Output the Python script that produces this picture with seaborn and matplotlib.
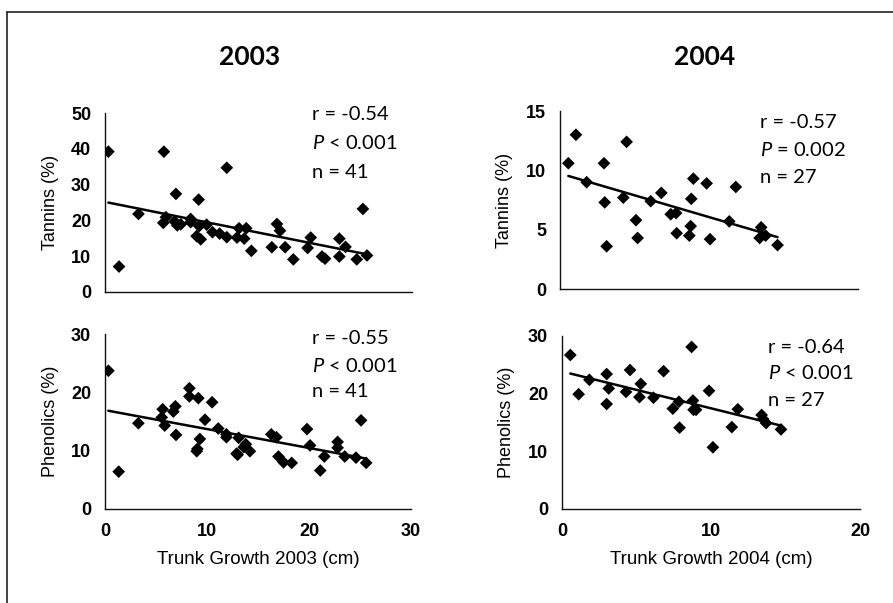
import numpy as np
import pandas as pd
import matplotlib
matplotlib.use("Agg")
import matplotlib.pyplot as plt
from matplotlib.lines import Line2D
import seaborn as sns

# ---------------- data ----------------
growth03_tan = [0.33, 1.37, 3.27, 5.75, 5.69, 5.95, 6.93, 6.8, 7.06, 8.37, 8.37, 9.15, 9.2, 8.95,
                9.35, 9.93, 10.5, 11.2, 11.9, 11.9, 12.9, 13.1, 13.8, 13.6, 14.3, 16.3, 16.8, 17.1,
                17.6, 18.4, 19.8, 20.1, 21.2, 21.5, 22.9, 22.9, 23.5, 24.6, 25.2, 25.6, 7.4]
tannins03 = [39.2, 7.1, 21.8, 39.2, 19.3, 20.9, 27.4, 19.7, 18.6, 20.4, 19.5, 25.8, 18.4, 15.6,
             14.7, 18.8, 16.7, 16.3, 34.7, 15.3, 15.2, 17.8, 17.8, 14.9, 11.5, 12.5, 19.0, 17.1,
             12.5, 9.1, 12.3, 15.2, 9.9, 9.3, 14.9, 9.9, 12.6, 9.1, 23.2, 10.2, 18.9]

growth04_tan = [0.56, 1.07, 1.79, 2.95, 3.0, 3.13, 4.25, 4.47, 5.1, 5.21, 6.09, 6.8, 7.43, 7.79,
                7.83, 8.68, 8.77, 8.81, 8.95, 9.84, 10.07, 11.36, 11.8, 13.4, 13.5, 13.8, 14.6]
tannins04 = [10.6, 13.0, 9.0, 10.6, 7.3, 3.6, 7.7, 12.4, 5.8, 4.3, 7.4, 8.1, 6.3, 6.4,
             4.7, 4.5, 5.3, 7.6, 9.3, 8.9, 4.2, 5.7, 8.6, 4.3, 5.2, 4.5, 3.7]

growth03_phe = [0.33, 1.34, 3.27, 5.65, 5.56, 5.85, 6.7, 6.9, 6.96, 8.27, 8.27, 9.15, 8.99, 9.05,
                9.3, 9.8, 10.5, 11.1, 11.9, 11.9, 12.9, 13.1, 13.6, 13.8, 14.2, 13.0, 16.3, 16.8,
                17.0, 17.5, 18.3, 19.8, 20.1, 21.1, 21.5, 22.8, 22.8, 23.5, 24.6, 25.1, 25.6]
phenolics03 = [23.7, 6.4, 14.7, 17.1, 15.7, 14.3, 16.7, 17.6, 12.7, 20.7, 19.3, 19.0, 9.9, 10.3,
               12.0, 15.3, 18.3, 13.8, 12.8, 12.3, 9.5, 12.2, 10.6, 11.1, 9.9, 9.3, 12.8, 12.3,
               9.0, 8.0, 7.9, 13.7, 10.9, 6.6, 9.0, 11.5, 10.5, 9.0, 8.8, 15.2, 7.9]

growth04_phe = [0.56, 1.12, 1.84, 3.0, 3.14, 3.0, 4.3, 4.57, 5.2, 5.29, 6.14, 6.82, 7.44, 7.85,
                7.89, 8.7, 8.79, 8.83, 9.0, 9.87, 10.13, 11.4, 11.8, 13.4, 13.5, 13.7, 14.7]
phenolics04 = [26.7, 19.9, 22.4, 23.4, 20.9, 18.2, 20.3, 24.1, 19.4, 21.7, 19.3, 23.9, 17.4, 18.6,
               14.1, 28.1, 18.8, 17.2, 17.2, 20.5, 10.7, 14.2, 17.3, 16.3, 15.6, 14.9, 13.8]

years = ["2003", "2004"]
stats_tan03 = ["r = -0.54", "$P$ < 0.001", "n = 41"]
stats_tan04 = ["r = -0.57", "$P$ = 0.002", "n = 27"]
stats_phe03 = ["r = -0.55", "$P$ < 0.001", "n = 41"]
stats_phe04 = ["r = -0.64", "$P$ < 0.001", "n = 27"]
xlabels = ["Trunk Growth 2003 (cm)", "Trunk Growth 2004 (cm)"]
ylabels = ["Tannins (%)", "Phenolics (%)"]

# ---------------- style ----------------
sns.set_theme(style="white")
plt.rcParams["font.family"] = ["Liberation Sans", "DejaVu Sans"]
plt.rcParams["text.color"] = "black"
plt.rcParams["axes.labelcolor"] = "black"
plt.rcParams["xtick.color"] = "black"
plt.rcParams["ytick.color"] = "black"
plt.rcParams["mathtext.fontset"] = "custom"
plt.rcParams["mathtext.it"] = "Lato:italic"
plt.rcParams["mathtext.rm"] = "Lato"

fig = plt.figure(figsize=(8.93, 6.03), dpi=100)
fig.patch.set_facecolor("white")

positions = {
    (0, 0): [0.1176, 0.5158, 0.3438, 0.2968],
    (0, 1): [0.6271, 0.5207, 0.3337, 0.2952],
    (1, 0): [0.1176, 0.1559, 0.3427, 0.2902],
    (1, 1): [0.6293, 0.1559, 0.3337, 0.2869],
}

panels = {
    (0, 0): (growth03_tan, tannins03, stats_tan03, (0, 30), (0, 50), [0, 10, 20, 30], [0, 10, 20, 30, 40, 50],
             [0.989, 0.832, 0.670], 0.674),
    (0, 1): (growth04_tan, tannins04, stats_tan04, (0, 20), (0, 15), [0, 10, 20], [0, 5, 10, 15],
             [0.933, 0.780, 0.624], 0.671),
    (1, 0): (growth03_phe, phenolics03, stats_phe03, (0, 30), (0, 30), [0, 10, 20, 30], [0, 10, 20, 30],
             [0.977, 0.817, 0.669], 0.676),
    (1, 1): (growth04_phe, phenolics04, stats_phe04, (0, 20), (0, 30), [0, 10, 20], [0, 10, 20, 30],
             [0.936, 0.786, 0.630], 0.690),
}

for (r, c), (xs, ys, stats, xlim, ylim, xt, yt, ty, tx) in panels.items():
    ax = fig.add_axes(positions[(r, c)])
    df = pd.DataFrame({"x": xs, "y": ys})
    sns.regplot(data=df, x="x", y="y", ax=ax, ci=None, color="black",
                marker="D", scatter_kws={"s": 42, "color": "#000000", "edgecolor": "none",
                                         "alpha": 1, "zorder": 3},
                line_kws={"color": "black", "lw": 1.8, "zorder": 2})
    ax.set_xlim(*xlim)
    ax.set_ylim(*ylim)
    ax.set_xticks(xt)
    ax.set_yticks(yt)
    for side in ["top", "right"]:
        ax.spines[side].set_visible(False)
    for side in ["left", "bottom"]:
        ax.spines[side].set_color("#111111")
        ax.spines[side].set_linewidth(1.0)
    ax.tick_params(axis="both", direction="in", length=4, width=1.0, color="#111111",
                   labelsize=13, pad=10)
    for lab in ax.get_yticklabels() + ax.get_xticklabels():
        lab.set_fontweight("bold")
        lab.set_family(["Liberation Sans", "DejaVu Sans"])
    if r == 0:
        ax.set_xticklabels([])
        ax.set_xlabel("")
    else:
        ax.set_xlabel(xlabels[c], fontsize=13.5, family=["Liberation Sans Narrow", "Liberation Sans"],
                      labelpad=8)
    ax.set_ylabel(ylabels[r], fontsize=13, labelpad=9)
    for t, yy in zip(stats, ty):
        ax.text(tx, yy, t, transform=ax.transAxes, fontsize=14.5, family=["Lato", "DejaVu Sans"],
                va="center", ha="left", color="black")

# titles
fig.text(0.28, 0.905, years[0], fontsize=19, fontweight="bold", family=["Lato", "DejaVu Sans"],
         ha="center", va="center", color="black")
fig.text(0.789, 0.905, years[1], fontsize=19, fontweight="bold", family=["Lato", "DejaVu Sans"],
         ha="center", va="center", color="black")

# outer frame (top and left edges visible)
fig.add_artist(Line2D([7 / 893, 1.0], [1 - 12 / 603, 1 - 12 / 603], transform=fig.transFigure,
                      color="#222222", lw=1.2))
fig.add_artist(Line2D([7 / 893, 7 / 893], [0.0, 1 - 12 / 603], transform=fig.transFigure,
                      color="#222222", lw=1.2))

fig.savefig("out.png", dpi=100, facecolor="white")
